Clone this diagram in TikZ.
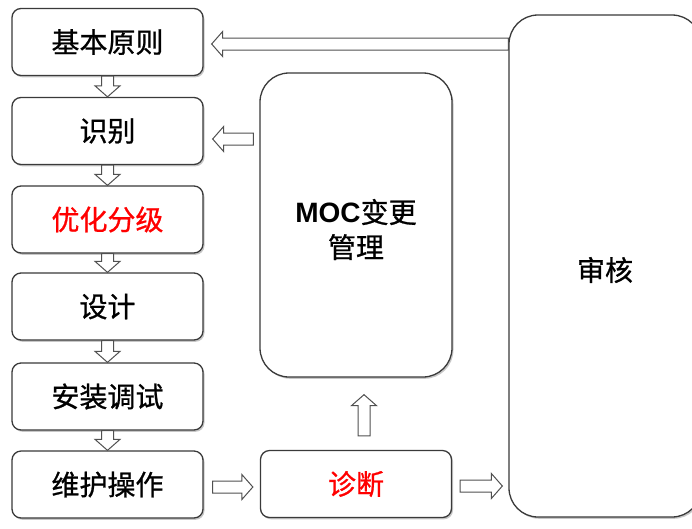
\documentclass[tikz,border=0pt]{standalone}
\usepackage{fontspec}
\setmainfont{Noto Sans CJK SC}[FakeBold=0.8]
\newfontfamily\latinsans{Liberation Sans}
\usetikzlibrary{calc,shadows}
\definecolor{boxedge}{HTML}{3A3A3A}
\definecolor{arrowedge}{HTML}{505050}
\definecolor{redtext}{HTML}{FF0000}
\tikzset{
  box/.style={draw=boxedge, line width=1.3pt, fill=white, rounded corners=9pt,
    minimum width=191pt, minimum height=67pt, inner sep=0pt,
    font=\fontsize{28pt}{35pt}\selectfont,
    drop shadow={shadow xshift=1.5pt, shadow yshift=-1.8pt, fill=black, opacity=0.22}},
  bigbox/.style={box, rounded corners=29pt},
  hollowarrow/.style={draw=arrowedge, line width=1pt, fill=white, line join=miter},
  redlabel/.style={text=redtext},
  bigtext/.style={font=\fontsize{28pt}{35pt}\selectfont, inner sep=0pt, align=center}
}
% hollow block arrow from #1 (tail) to #2 (tip)
\newcommand\blockarrow[2]{%
  \draw[hollowarrow]
    ($(#1)!6pt!90:(#2)$) --
    ($(#2)!11pt!(#1)!6pt!-90:(#1)$) --
    ($(#2)!11pt!(#1)!12.5pt!-90:(#1)$) --
    (#2) --
    ($(#2)!11pt!(#1)!12.5pt!90:(#1)$) --
    ($(#2)!11pt!(#1)!6pt!90:(#1)$) --
    ($(#1)!6pt!-90:(#2)$) -- cycle;}
\begin{document}
\begin{tikzpicture}[x=1pt,y=-1pt]
\useasboundingbox[fill=white] (0,0) rectangle (692,528);

% left column
\node[box] (b1) at (107.5,42)    {基本原则};
\node[box] (b2) at (107.5,131)   {识别};
\node[box, redlabel] (b3) at (107.5,219.5) {优化分级};
\node[box] (b4) at (107.5,306.5) {设计};
\node[box] (b5) at (107.5,396.5) {安装调试};
\node[box] (b6) at (107.5,484.5) {维护操作};

% middle column
\node[bigbox, minimum width=192pt, minimum height=304pt] (moc) at (356,225) {};
\node[bigtext] (moctext) at (356,229.5) {{\latinsans\bfseries MOC}变更\\管理};
\node[box, redlabel] (diag) at (356,484) {诊断};

% right column
\node[bigbox, minimum width=192pt, minimum height=502pt] (audit) at (605,266) {};
\node[bigtext] (audittext) at (605,270) {审核};

% arrow end points
\coordinate (a1tail) at ($(audit.west |- b1.east)+(0,2)$);
\coordinate (a1tip)  at ($(b1.east)+(8,2)$);
\coordinate (a2tail) at ($(moc.west |- b2.east)+(-6,8)$);
\coordinate (a2tip)  at ($(b2.east)+(9,8)$);
\coordinate (a3tail) at ($(b6.east)+(9,2.5)$);
\coordinate (a3tip)  at ($(diag.west)+(-7,3)$);
\coordinate (a4tail) at ($(diag.east)+(8,2)$);
\coordinate (a4tip)  at ($(audit.west |- diag.east)+(-6,2)$);
\coordinate (a5tail) at ($(diag.north)+(8,-14)$);
\coordinate (a5tip)  at ($(moc.south)+(8,17)$);

% down arrows in the left column
\blockarrow{b1.south}{b2.north}
\blockarrow{b2.south}{b3.north}
\blockarrow{b3.south}{b4.north}
\blockarrow{b4.south}{b5.north}
\blockarrow{b5.south}{b6.north}

% other arrows
\blockarrow{a1tail}{a1tip}
\blockarrow{a2tail}{a2tip}
\blockarrow{a3tail}{a3tip}
\blockarrow{a4tail}{a4tip}
\blockarrow{a5tail}{a5tip}
\end{tikzpicture}
\end{document}
